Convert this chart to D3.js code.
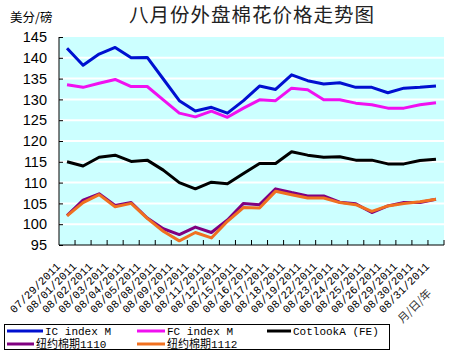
<!DOCTYPE html>
<html>
<head>
<meta charset="utf-8">
<script src="https://cdn.jsdelivr.net/npm/d3@7"></script>
<style>
  body { margin: 0; background: #fff; }
</style>
</head>
<body>
<script>
let width = 451, height = 354
let margin = { top: 37, right: 7, bottom: 109, left: 59 }

let dates = ['07/29/2011', '08/01/2011', '08/02/2011', '08/03/2011', '08/04/2011', '08/05/2011',
    '08/08/2011', '08/09/2011', '08/10/2011', '08/11/2011', '08/12/2011', '08/15/2011',
    '08/16/2011', '08/17/2011', '08/18/2011', '08/19/2011', '08/22/2011', '08/23/2011',
    '08/24/2011', '08/25/2011', '08/26/2011', '08/29/2011', '08/30/2011', '08/31/2011']
let icIndex = [142.3, 138.2, 140.9, 142.5, 140.0, 140.1, 134.9, 129.7, 127.2, 128.1, 126.7, 129.7,
    133.2, 132.4, 135.9, 134.5, 133.7, 134.0, 132.9, 132.9, 131.6, 132.7, 132.9, 133.2]
let fcIndex = [133.5, 132.9, 133.9, 134.8, 133.1, 133.1, 129.9, 126.7, 125.8, 127.2, 125.7, 127.9,
    129.9, 129.7, 132.7, 132.3, 129.9, 129.9, 129.1, 128.7, 127.9, 127.9, 128.7, 129.2]
let cotlookA = [115.0, 114.0, 116.1, 116.6, 115.1, 115.4, 113.0, 110.0, 108.5, 110.1, 109.7, 112.2,
    114.6, 114.6, 117.4, 116.6, 116.1, 116.2, 115.4, 115.4, 114.5, 114.5, 115.3, 115.6]
let ny1110 = [102.1, 105.8, 107.3, 104.5, 105.2, 101.5, 98.9, 97.5, 99.3, 98.0, 101.0, 105.0,
    104.7, 108.5, 107.6, 106.8, 106.8, 105.3, 104.9, 102.8, 104.4, 105.2, 105.2, 106.0]
let ny1112 = [102.0, 105.2, 107.1, 104.2, 105.0, 101.4, 98.3, 96.0, 98.0, 96.7, 100.7, 104.0,
    103.9, 107.9, 107.1, 106.3, 106.3, 105.2, 104.7, 103.1, 104.4, 105.0, 105.4, 106.0]
let yTicks = [95, 100, 105, 110, 115, 120, 125, 130, 135, 140, 145]

let series = [
    { name: 'IC index M', values: icIndex, color: '#0010d0' },
    { name: 'FC index M', values: fcIndex, color: '#f010f0' },
    { name: 'CotlookA (FE)', values: cotlookA, color: '#000000' },
    { name: '纽约棉期1110', values: ny1110, color: '#800080' },
    { name: '纽约棉期1112', values: ny1112, color: '#f07020' }
]

let svg = d3.select('body').append('svg')
    .attr('width', width).attr('height', height)
    .style('font-family', 'Liberation Sans, Arial, sans-serif')

let x = d3.scaleBand()
    .domain(dates)
    .range([margin.left, width - margin.right])
let y = d3.scaleLinear()
    .domain([95, 145])
    .range([height - margin.bottom, margin.top])
let cx = d => x(d) + x.bandwidth() / 2

// plot background
svg.append('rect')
    .attr('x', margin.left).attr('y', margin.top)
    .attr('width', width - margin.right - margin.left)
    .attr('height', height - margin.bottom - margin.top)
    .attr('fill', '#ccffff')

// white gridlines
svg.append('g')
    .selectAll('line')
    .data(yTicks.slice(1, -1))
    .join('line')
    .attr('x1', margin.left).attr('x2', width - margin.right)
    .attr('y1', d => y(d)).attr('y2', d => y(d))
    .attr('stroke', '#fff').attr('stroke-width', 2)

// y axis
svg.append('g')
    .attr('transform', `translate(${margin.left}, 0)`)
    .call(d3.axisLeft(y).tickValues(yTicks).tickSize(-4).tickPadding(12))
    .call(g => g.select('.domain').attr('stroke', '#000').attr('d', `M0,${y(145)}V${y(95)}`))
    .call(g => g.selectAll('.tick text')
        .attr('font-size', 14.5)
        .attr('font-family', 'Liberation Sans, Arial, sans-serif')
        .attr('fill', '#000'))

// x axis
let xAxis = svg.append('g')
    .attr('transform', `translate(0, ${height - margin.bottom})`)
xAxis.append('line')
    .attr('x1', margin.left).attr('x2', width - margin.right)
    .attr('stroke', '#000')
xAxis.selectAll('.tk')
    .data(dates)
    .join('line')
    .attr('class', 'tk')
    .attr('x1', d => x(d) + x.bandwidth()).attr('x2', d => x(d) + x.bandwidth())
    .attr('y1', 0).attr('y2', -5)
    .attr('stroke', '#000')
xAxis.selectAll('text')
    .data(dates)
    .join('text')
    .attr('transform', d => `translate(${cx(d) - 6}, 22) rotate(-45)`)
    .attr('text-anchor', 'end')
    .attr('font-family', 'Liberation Mono, monospace')
    .attr('font-size', 11)
    .text(d => d)

svg.append('text')
    .attr('transform', `translate(432, 294) rotate(-45)`)
    .attr('text-anchor', 'end')
    .attr('font-family', 'Noto Sans CJK SC, sans-serif')
    .attr('font-size', 11)
    .attr('fill', '#333')
    .text('月/日/年')

// lines
let line = d3.line()
    .x((d, i) => cx(dates[i]))
    .y(d => y(d))
svg.append('g')
    .selectAll('path')
    .data(series)
    .join('path')
    .attr('d', d => line(d.values))
    .attr('fill', 'none')
    .attr('stroke', d => d.color)
    .attr('stroke-width', 3)
    .attr('stroke-linejoin', 'round')

// titles
svg.append('text')
    .attr('x', 252).attr('y', 22)
    .attr('text-anchor', 'middle')
    .attr('font-family', 'Noto Sans CJK SC, sans-serif')
    .attr('font-size', 19.5)
    .attr('letter-spacing', 1)
    .attr('fill', '#222')
    .text('八月份外盘棉花价格走势图')
svg.append('text')
    .attr('x', 10).attr('y', 22)
    .attr('font-family', 'Noto Sans CJK SC, sans-serif')
    .attr('font-size', 12.5)
    .attr('fill', '#000')
    .text('美分/磅')

// legend
let legendPos = [
    { lx: 7, ly: 331, tx: 45, ty: 335 },
    { lx: 137, ly: 331, tx: 167, ty: 335 },
    { lx: 267, ly: 331, tx: 293, ty: 335 },
    { lx: 7, ly: 344, tx: 36, ty: 348 },
    { lx: 137, ly: 344, tx: 167, ty: 348 }
]
let legend = svg.append('g')
legend.append('rect')
    .attr('x', 4.5).attr('y', 324.5).attr('width', 385).attr('height', 25)
    .attr('fill', '#fff').attr('stroke', '#000').attr('stroke-width', 1)
series.forEach((s, i) => {
    let p = legendPos[i]
    legend.append('line')
        .attr('x1', p.lx).attr('x2', p.tx - 2)
        .attr('y1', p.ly).attr('y2', p.ly)
        .attr('stroke', s.color).attr('stroke-width', 3)
    legend.append('text')
        .attr('x', p.tx).attr('y', p.ty)
        .attr('font-family', 'Liberation Mono, Noto Sans CJK SC, monospace')
        .attr('font-size', 11)
        .style('white-space', 'pre')
        .text(s.name)
})
</script>
</body>
</html>
